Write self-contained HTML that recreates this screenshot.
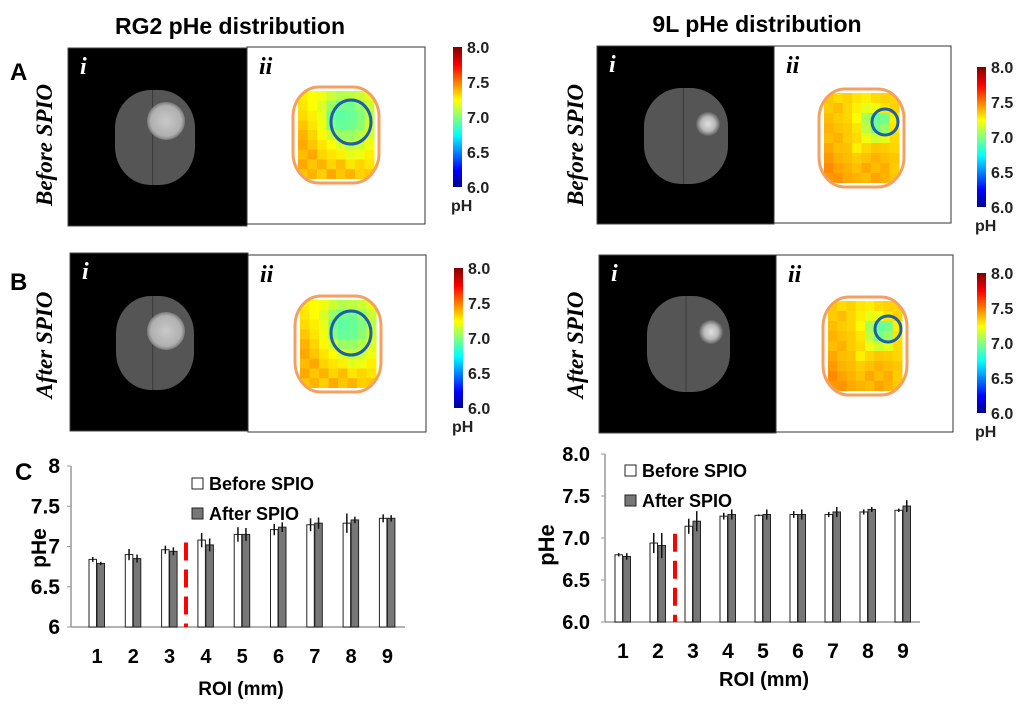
<!DOCTYPE html>
<html><head><meta charset="utf-8"><style>
body{margin:0;background:#fff;}
svg{display:block;font-family:"Liberation Sans",sans-serif;}
.b{font-weight:bold;}
</style></head><body>
<svg id="fig" width="1024" height="714" viewBox="0 0 1024 714">
<defs>
<linearGradient id="jet" x1="0" y1="1" x2="0" y2="0">
<stop offset="0" stop-color="#00008f"/><stop offset="0.12" stop-color="#0000ff"/><stop offset="0.37" stop-color="#00ffff"/><stop offset="0.62" stop-color="#ffff00"/><stop offset="0.87" stop-color="#ff0000"/><stop offset="1" stop-color="#800000"/>
</linearGradient>
<radialGradient id="tum1"><stop offset="0" stop-color="#c8c8c8"/><stop offset="0.8" stop-color="#b0b0b0"/><stop offset="1" stop-color="#7a7a7a"/></radialGradient>
<radialGradient id="tum2"><stop offset="0" stop-color="#e0e0e0"/><stop offset="0.6" stop-color="#b8b8b8"/><stop offset="1" stop-color="#606060"/></radialGradient>
</defs>
<text x="230" y="34" text-anchor="middle" class="b" font-size="23">RG2 pHe distribution</text>
<text x="757" y="32" text-anchor="middle" class="b" font-size="23">9L pHe distribution</text>
<text x="10" y="80" class="b" font-size="24">A</text>
<text x="10" y="290" class="b" font-size="24">B</text>
<text x="15" y="480" class="b" font-size="24">C</text>
<g id="panels"></g>
<g id="chartL"></g>
<g id="chartR"></g>
</svg>
<script>
// ---------- chart data ----------
const categories = ["1","2","3","4","5","6","7","8","9"];
const rg2Before = [6.84,6.90,6.96,7.08,7.15,7.21,7.27,7.29,7.35];
const rg2After  = [6.79,6.85,6.94,7.02,7.15,7.24,7.29,7.33,7.35];
const rg2BeforeErr = [0.03,0.07,0.05,0.09,0.09,0.07,0.08,0.12,0.05];
const rg2AfterErr  = [0.02,0.05,0.05,0.08,0.08,0.06,0.07,0.04,0.04];
const l9Before = [6.80,6.94,7.14,7.26,7.27,7.28,7.28,7.31,7.33];
const l9After  = [6.78,6.91,7.20,7.28,7.28,7.28,7.31,7.34,7.38];
const l9BeforeErr = [0.02,0.12,0.09,0.04,0.01,0.04,0.03,0.03,0.02];
const l9AfterErr  = [0.04,0.15,0.12,0.06,0.06,0.06,0.06,0.03,0.07];
const rg2Ticks = ["6","6.5","7","7.5","8"];
const l9Ticks = ["6.0","6.5","7.0","7.5","8.0"];
const cbTicks = ["6.0","6.5","7.0","7.5","8.0"];
// pH map grids (rows top->bottom)
const rg2Grid = [
[7.28,7.25,7.22,7.15,7.10,7.12,7.15,7.20],
[7.30,7.25,7.18,7.05,6.98,6.97,7.05,7.15],
[7.32,7.28,7.20,6.98,6.93,6.95,7.00,7.12],
[7.36,7.30,7.22,7.00,6.95,6.96,7.02,7.15],
[7.40,7.33,7.26,7.15,7.05,7.05,7.10,7.18],
[7.42,7.36,7.30,7.25,7.18,7.12,7.15,7.22],
[7.38,7.42,7.33,7.30,7.28,7.20,7.22,7.28],
[7.42,7.36,7.40,7.33,7.38,7.30,7.33,7.30],
[7.36,7.40,7.34,7.42,7.36,7.40,7.34,7.36]];
const l9Grid = [
[7.36,7.32,7.34,7.30,7.28,7.32,7.34,7.33],
[7.35,7.38,7.33,7.28,7.20,7.22,7.30,7.34],
[7.38,7.35,7.33,7.26,7.08,6.95,6.98,7.28],
[7.40,7.37,7.35,7.30,7.12,6.98,7.05,7.30],
[7.38,7.40,7.35,7.32,7.22,7.16,7.20,7.32],
[7.42,7.38,7.37,7.28,7.33,7.36,7.35,7.33],
[7.45,7.40,7.38,7.35,7.37,7.40,7.38,7.36],
[7.48,7.43,7.40,7.37,7.42,7.38,7.41,7.35],
[7.45,7.46,7.42,7.40,7.38,7.43,7.40,7.36]];

const NS="http://www.w3.org/2000/svg";
function mk(parent,tag,attrs,txt){const e=document.createElementNS(NS,tag);for(const k in attrs)e.setAttribute(k,attrs[k]);if(txt!==undefined)e.textContent=txt;parent.appendChild(e);return e;}
function jet(ph){const t=(ph-6)/2;const c=v=>Math.round(255*Math.max(0,Math.min(1,v)));
return `rgb(${c(1.5-Math.abs(4*t-3))},${c(1.5-Math.abs(4*t-2))},${c(1.5-Math.abs(4*t-1))})`;}

const P=document.getElementById('panels');
const panels=[
 {bx:68,by:48,wx:247,wy:47,w:178,cbx:453,cby:47,grid:rg2Grid,ox:293,oy:87,ow:86,oh:96,tc:[351,122,20,22],br:[115,90,80,95],tu:[166,121,19],tg:'tum1',lab:'Before SPIO',lx:52,ly:145,id:'rg2-before'},
 {bx:70,by:253,wx:248,wy:255,w:178,cbx:454,cby:268,grid:rg2Grid,ox:295,oy:296,ow:86,oh:96,tc:[351,333,20,22],br:[116,296,78,94],tu:[166,331,19],tg:'tum1',lab:'After SPIO',lx:52,ly:345,id:'rg2-after'},
 {bx:597,by:46,wx:774,wy:46,w:177,cbx:977,cby:67,grid:l9Grid,ox:819,oy:89,ow:85,oh:98,tc:[885,122,13,13],br:[644,88,84,96],tu:[708,124,12],tg:'tum2',lab:'Before SPIO',lx:583,ly:145,id:'9l-before'},
 {bx:599,by:255,wx:776,wy:255,w:177,cbx:977,cby:273,grid:l9Grid,ox:823,oy:297,ow:84,oh:98,tc:[888,329,13,13],br:[647,296,83,96],tu:[711,332,12],tg:'tum2',lab:'After SPIO',lx:583,ly:345,id:'9l-after'}];
panels.forEach(p=>{
 const g=mk(P,'g',{});
 
 
 const blk=mk(g,'rect',{x:p.bx,y:p.by,width:p.wx-p.bx,height:178,fill:'#000',stroke:'#444','stroke-width':1});
 
 
 const [bx,by,bw,bh]=p.br;
 mk(g,'rect',{x:bx,y:by,width:bw,height:bh,rx:bw*0.45,ry:bh*0.4,fill:'#555'});
 mk(g,'line',{x1:bx+bw*0.47,y1:by,x2:bx+bw*0.47,y2:by+bh,stroke:'#3a3a3a','stroke-width':1});
 mk(g,'circle',{cx:p.tu[0],cy:p.tu[1],r:p.tu[2],fill:`url(#${p.tg})`});
 mk(g,'text',{x:p.bx+12,y:p.by+26,fill:'#fff','font-family':'Liberation Serif,serif','font-style':'italic','font-weight':'bold','font-size':24},'i');
 const wh=mk(g,'rect',{x:p.wx,y:p.wy,width:p.w,height:177,fill:'#fff',stroke:'#333','stroke-width':1});
 
 
 mk(g,'text',{x:p.wx+12,y:p.wy+27,fill:'#000','font-family':'Liberation Serif,serif','font-style':'italic','font-weight':'bold','font-size':24},'ii');
 const cols=p.grid[0].length,rows=p.grid.length,cw=(p.ow-10)/cols,chh=(p.oh-8)/rows;
 const cid='clip'+p.id;
 const cp=mk(g,'clipPath',{id:cid});
 mk(cp,'rect',{x:p.ox+4,y:p.oy+4,width:p.ow-8,height:p.oh-8,rx:14});
 const cg=mk(g,'g',{'clip-path':`url(#${cid})`});
 p.grid.forEach((row,r)=>row.forEach((v,c)=>{
  const cell=mk(cg,'rect',{x:p.ox+5+c*cw,y:p.oy+4+r*chh,width:cw+0.5,height:chh+0.5,fill:jet(v)});
  
  
 }));
 mk(g,'rect',{x:p.ox,y:p.oy,width:p.ow,height:p.oh,rx:26,ry:30,fill:'none',stroke:'#f4a060','stroke-width':3});
 const tc=mk(g,'ellipse',{cx:p.tc[0],cy:p.tc[1],rx:p.tc[2],ry:p.tc[3],fill:'none',stroke:'#1f5fa8','stroke-width':3});
 
 
 const cb=mk(g,'rect',{x:p.cbx,y:p.cby,width:9,height:140,fill:'url(#jet)'});
 
 
 cbTicks.forEach((t,i)=>mk(g,'text',{x:p.cbx+14,y:p.cby+146-i*35,'font-size':16,'font-weight':'bold',fill:'#222'},t));
 mk(g,'text',{x:p.cbx-2,y:p.cby+164,'font-size':16,'font-weight':'bold',fill:'#222'},'pH');
 mk(g,'text',{x:p.lx,y:p.ly,transform:`rotate(-90 ${p.lx} ${p.ly})`,'text-anchor':'middle','font-family':'Liberation Serif,serif','font-style':'italic','font-weight':'bold','font-size':23},p.lab);
});

function chart(root,o){
 const G=document.getElementById(root);
 const y=v=>o.y0-(v-6)/2*(o.y0-o.y1);
 const x=i=>o.c0+i*o.step;
 mk(G,'line',{x1:o.ax,y1:o.y1,x2:o.ax,y2:o.y0,stroke:'#999','stroke-width':1.5});
 mk(G,'line',{x1:o.ax,y1:o.y0,x2:o.xe,y2:o.y0,stroke:'#999','stroke-width':1.5});
 o.ticks.forEach((t,i)=>{const v=6+i*0.5;
  mk(G,'line',{x1:o.ax-4,y1:y(v),x2:o.ax,y2:y(v),stroke:'#999'});
  const tl=mk(G,'text',{x:o.tx,y:y(v)+7,'text-anchor':'end','font-size':o.fs,'font-weight':'bold'},t);
  
  
 });
 categories.forEach((c,i)=>{
  const cl=mk(G,'text',{x:x(i),y:o.xly,'text-anchor':'middle','font-size':o.xfs,'font-weight':'bold'},c);
  
  
  [[o.b,o.be,'#fff',-8],[o.a,o.ae,'#777',0]].forEach(([arr,err,col,off],k)=>{
   const bar=mk(G,'rect',{x:x(i)+off,y:y(arr[i]),width:7.5,height:o.y0-y(arr[i]),fill:col,stroke:'#222','stroke-width':1});
   
   
   const ex=x(i)+off+3.75;
   mk(G,'line',{x1:ex,y1:y(arr[i]+err[i]),x2:ex,y2:y(arr[i]-err[i]),stroke:'#111','stroke-width':1.5});
  });
 });
 const d=mk(G,'line',{x1:o.dx,y1:y(7.05),x2:o.dx,y2:o.y0,stroke:'#f00','stroke-width':4,'stroke-dasharray':'18,9'});
 
 
 const l1=mk(G,'rect',{x:o.lgx,y:o.lgy,width:11,height:11,fill:'#fff',stroke:'#222'});
 
 
 mk(G,'text',{x:o.lgx+17,y:o.lgy+12,'font-size':18,'font-weight':'bold'},'Before SPIO');
 const l2=mk(G,'rect',{x:o.lgx,y:o.lgy+30,width:11,height:11,fill:'#777',stroke:'#222'});
 
 
 mk(G,'text',{x:o.lgx+17,y:o.lgy+42,'font-size':18,'font-weight':'bold'},' After SPIO');
 const xt=mk(G,'text',{x:o.xtx,y:o.xty,'text-anchor':'middle','font-size':o.tfs,'font-weight':'bold'},'ROI (mm)');
 
 
 const yt=mk(G,'text',{x:o.ytx,y:o.yty,transform:`rotate(-90 ${o.ytx} ${o.yty})`,'text-anchor':'middle','font-size':o.tfs+2,'font-weight':'bold'},'pHe');
 
 
}
chart('chartL',{ax:71,xe:405,y0:627,y1:466,c0:97,step:36.3,ticks:rg2Ticks,tx:60,fs:21,xfs:20,tfs:19,xly:663,b:rg2Before,a:rg2After,be:rg2BeforeErr,ae:rg2AfterErr,dx:186,lgx:192,lgy:478,xtx:241,xty:695,ytx:46,yty:548});
chart('chartR',{ax:605,xe:920,y0:622,y1:454,c0:623,step:35,ticks:l9Ticks,tx:590,fs:20,xfs:21,tfs:20,xly:658,b:l9Before,a:l9After,be:l9BeforeErr,ae:l9AfterErr,dx:675,lgx:625,lgy:465,xtx:764,xty:686,ytx:554,yty:545});
</script>
</body></html>
